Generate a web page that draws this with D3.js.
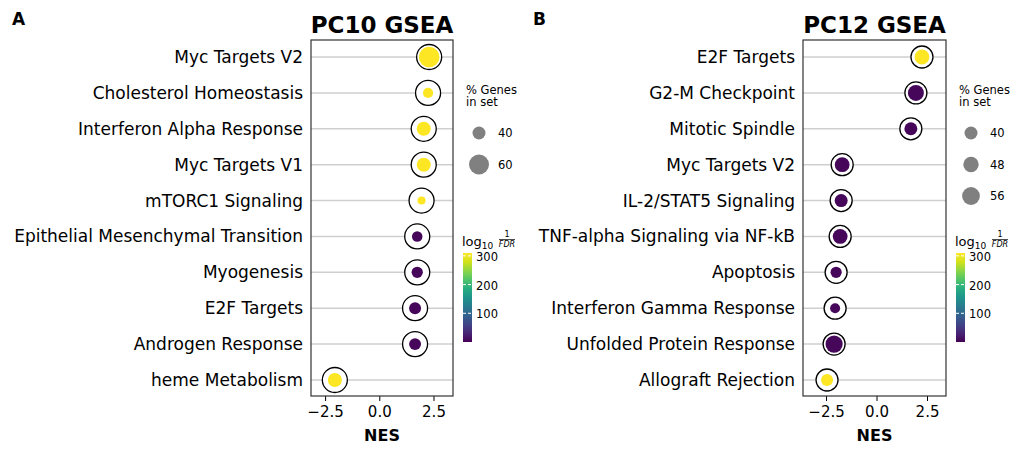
<!DOCTYPE html>
<html><head><meta charset="utf-8">
<script src="https://cdn.jsdelivr.net/npm/d3@7"></script>
<style>body{margin:0;background:#fff}text{font-family:"DejaVu Sans",sans-serif}</style>
</head><body><svg id="c" width="1024" height="455"></svg>
<script>
// PC10 data
var pc10Terms = ["Myc Targets V2","Cholesterol Homeostasis","Interferon Alpha Response","Myc Targets V1","mTORC1 Signaling","Epithelial Mesenchymal Transition","Myogenesis","E2F Targets","Androgen Response","heme Metabolism"];
var pc10Nes = [2.3,2.25,2.05,2.05,1.95,1.75,1.75,1.65,1.65,-2.05];
var pc10Pct = [62,32,43,43,26,33,35,37,37,43];
var pc10Fdr = [300,300,300,300,300,5,5,5,5,300];
// PC12 data
var pc12Terms = ["E2F Targets","G2-M Checkpoint","Mitotic Spindle","Myc Targets V2","IL-2/STAT5 Signaling","TNF-alpha Signaling via NF-kB","Apoptosis","Interferon Gamma Response","Unfolded Protein Response","Allograft Rejection"];
var pc12Nes = [2.25,1.95,1.7,-1.7,-1.75,-1.8,-2.0,-2.05,-2.1,-2.45];
var pc12Pct = [46,50,40,46,40,46,34,30,54,37];
var pc12Fdr = [300,5,5,5,5,5,5,5,5,300];
var xTicks = [-2.5,0,2.5];
var cbTicks = [100,200,300];

var svg = d3.select("#c");
var color = d3.scaleSequential(d3.interpolateViridis).domain([0,300]);

function panel(o){
  var g = svg.append("g");
  var x = d3.scaleLinear().domain(o.xdom).range([o.x0,o.x1]);
  var y = d3.scalePoint().domain(o.terms).range([57,380]);
  var r = function(p){return o.r0 + (p-40)*o.rk;};
  g.selectAll(".grid").data(o.terms).enter().append("line")
    .attr("x1",o.x0).attr("x2",o.x1).attr("y1",d=>y(d)).attr("y2",d=>y(d))
    .attr("stroke","#cfcfcf").attr("stroke-width",1.5);
  g.append("g").attr("transform","translate(0,396)")
    .call(d3.axisBottom(x).tickValues(xTicks).tickFormat(d3.format(".1f")).tickSize(5).tickSizeOuter(0))
    .call(a=>a.select(".domain").remove())
    .call(a=>a.selectAll("text").attr("font-size",15).attr("fill","#000").attr("dy","0.85em").text(d=>d3.format(".1f")(d).replace("-","\u2212")));
  g.selectAll(".lab").data(o.terms).enter().append("text")
    .attr("x",o.x0-8).attr("y",d=>y(d)).attr("dy","0.35em").attr("text-anchor","end")
    .attr("font-size",17).text(d=>d);
  o.terms.forEach(function(t,i){
    g.append("circle").attr("cx",x(o.nes[i])).attr("cy",y(t)).attr("r",o.ring)
      .attr("fill","#fff").attr("stroke","#000").attr("stroke-width",1.3);
    g.append("circle").attr("cx",x(o.nes[i])).attr("cy",y(t)).attr("r",r(o.pct[i]))
      .attr("fill",color(o.fdr[i]));
  });
  g.append("rect").attr("x",o.x0).attr("y",40).attr("width",o.x1-o.x0).attr("height",356)
    .attr("fill","none").attr("stroke","#333").attr("stroke-width",1.2);
  g.append("text").attr("x",(o.x0+o.x1)/2).attr("y",33).attr("text-anchor","middle")
    .attr("font-size",23).attr("font-weight","bold").text(o.title);
  g.append("text").attr("x",(o.x0+o.x1)/2).attr("y",441).attr("text-anchor","middle")
    .attr("font-size",16).attr("font-weight","bold").text("NES");
  g.append("text").attr("x",o.letterX).attr("y",25).attr("font-size",17).attr("font-weight","bold").text(o.letter);
  // size legend
  var lx = o.x1+13;
  g.append("text").attr("x",lx).attr("y",94).attr("font-size",11.5).text("% Genes");
  g.append("text").attr("x",lx).attr("y",106).attr("font-size",11.5).text("in set");
  o.legend.forEach(function(p,i){
    var cy = 133 + i*31.5;
    g.append("circle").attr("cx",o.x1+o.legCx).attr("cy",cy).attr("r",r(p)).attr("fill","#808080");
    g.append("text").attr("x",o.x1+o.legCx+19).attr("y",cy).attr("dy","0.35em").attr("font-size",11.5).text(p);
  });
  // colorbar
  var cbx = o.x1+10, cy0 = 253, cy1 = 342;
  var cs = d3.scaleLinear().domain([0,310]).range([cy1,cy0]);
  var id = "grad"+o.letter;
  var grad = svg.append("defs").append("linearGradient").attr("id",id)
    .attr("x1",0).attr("y1",1).attr("x2",0).attr("y2",0);
  d3.range(0,1.01,0.1).forEach(function(t){
    grad.append("stop").attr("offset",t).attr("stop-color",color(t*310));
  });
  g.append("rect").attr("x",cbx).attr("y",cy0).attr("width",9).attr("height",cy1-cy0).attr("fill","url(#"+id+")");
  cbTicks.forEach(function(v){
    g.append("line").attr("x1",cbx).attr("x2",cbx+9).attr("y1",cs(v)).attr("y2",cs(v))
      .attr("stroke","#fff").attr("stroke-dasharray","3,2").attr("stroke-width",1);
    g.append("text").attr("x",cbx+13).attr("y",cs(v)+1).attr("dy","0.35em").attr("font-size",11.5).text(v);
  });
  var tt = g.append("text").attr("x",cbx-1).attr("y",246).attr("font-size",13);
  tt.append("tspan").text("log");
  tt.append("tspan").attr("font-size",9).attr("dy",3).text("10");
  g.append("text").attr("x",cbx+44).attr("y",237).attr("font-size",8).attr("text-anchor","middle").text("1");
  g.append("line").attr("x1",cbx+36).attr("x2",cbx+52).attr("y1",239.5).attr("y2",239.5).attr("stroke","#000").attr("stroke-width",0.7);
  g.append("text").attr("x",cbx+44).attr("y",247).attr("font-size",8).attr("font-style","italic").attr("text-anchor","middle").text("FDR");
}

panel({terms:pc10Terms,nes:pc10Nes,pct:pc10Pct,fdr:pc10Fdr,xdom:[-3.15,3.4],x0:311,x1:453,
  title:"PC10 GSEA",letter:"A",letterX:12,ring:12.5,r0:6.5,rk:0.175,legend:[40,60],legCx:26});
panel({terms:pc12Terms,nes:pc12Nes,pct:pc12Pct,fdr:pc12Fdr,xdom:[-3.64,3.44],x0:803,x1:946,
  title:"PC12 GSEA",letter:"B",letterX:533,ring:11,r0:6.5,rk:0.15,legend:[40,48,56],legCx:25});
</script></body></html>
